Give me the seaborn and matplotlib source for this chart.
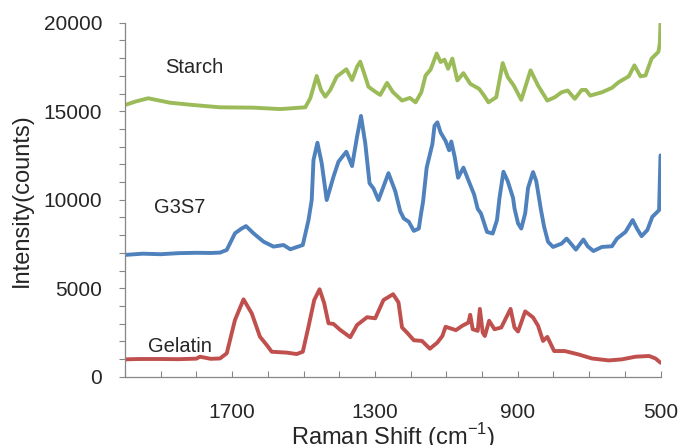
import matplotlib
matplotlib.use("Agg")
import matplotlib.pyplot as plt
from matplotlib.ticker import FixedLocator, MultipleLocator
import seaborn as sns
import pandas as pd

# ---- data (Raman shift in cm-1, intensity in counts) ----
gelatin_shift = [2000, 1960, 1900, 1850, 1800, 1790, 1760, 1734, 1715, 1692, 1668, 1645,
                 1622, 1603, 1589, 1547, 1519, 1502, 1486, 1470, 1455, 1442, 1430, 1416,
                 1397, 1369, 1350, 1322, 1299, 1276, 1249, 1234, 1224, 1210, 1191, 1168,
                 1146, 1125, 1111, 1102, 1073, 1055, 1038, 1033, 1026, 1012, 1006, 998,
                 992, 980, 965, 946, 932, 920, 909, 899, 879, 857, 843, 829, 817, 798,
                 768, 730, 692, 645, 608, 570, 532, 514, 500]
gelatin_int = [980, 1000, 1000, 990, 1020, 1130, 1010, 1030, 1320, 3200, 4370, 3580,
               2260, 1790, 1410, 1360, 1280, 1410, 2830, 4330, 4940, 4150, 3020, 2980,
               2640, 2230, 2920, 3360, 3300, 4330, 4660, 4200, 2780, 2490, 2060, 2020,
               1580, 1930, 2300, 2820, 2630, 2880, 3060, 3500, 2680, 2590, 3830, 2490,
               2300, 3160, 2680, 2780, 3350, 3830, 2780, 2550, 3690, 3350, 2880, 2020, 2250, 1450,
               1450, 1260, 1030, 920, 980, 1130, 1170, 1030, 790]

g3s7_shift = [2000, 1950, 1900, 1850, 1800, 1760, 1734, 1715, 1692, 1675, 1661, 1640,
              1612, 1584, 1556, 1537, 1502, 1486, 1477, 1472, 1461, 1449, 1435, 1416,
              1402, 1380, 1364, 1350, 1339, 1327, 1315, 1304, 1290, 1262, 1243, 1229,
              1219, 1205, 1191, 1177, 1170, 1165, 1155, 1139, 1133, 1125, 1116, 1102,
              1092, 1086, 1076, 1067, 1052, 1039, 1022, 1012, 1003, 986, 970, 958, 951,
              940, 928, 913, 909, 899, 890, 879, 871, 857, 848, 835, 826, 815, 801, 777,
              763, 751, 737, 716, 704, 688, 664, 636, 622, 598, 578, 566, 553, 537, 523,
              504, 500]
g3s7_int = [6880, 6950, 6920, 6980, 7000, 6990, 7010, 7160, 8100, 8350, 8510, 8100,
            7630, 7350, 7440, 7200, 7440, 8850, 9980, 12240, 13220, 12060, 9980, 11300,
            12150, 12710, 11900, 13560, 14730, 13190, 10930, 10640, 9980, 11500, 10480, 9340,
            8940, 8750, 8240, 8370, 9300, 9900, 11810, 13140, 14180, 14370, 13800, 13320,
            12790, 13290, 12370, 11240, 11810, 11140, 10290, 9480, 9230, 8180, 8090, 8850, 10100,
            11580, 11050, 10100, 9510, 8660, 8370, 9230, 10670, 11560, 11050, 9440, 8470, 7620, 7330, 7520,
            7800, 7520, 7180, 7750, 7370, 7100, 7330, 7370, 7800, 8180, 8850, 8370, 7940, 8280, 9030,
            9410, 12500]

starch_shift = [2000, 1970, 1935, 1874, 1809, 1734, 1640, 1565, 1495, 1481, 1463, 1451,
                1439, 1425, 1407, 1380, 1364, 1350, 1341, 1327, 1318, 1299, 1285, 1266,
                1250, 1224, 1202, 1186, 1170, 1158, 1144, 1127, 1116, 1105, 1095, 1083,
                1069, 1052, 1033, 1008, 994, 982, 960, 942, 928, 911, 890, 864, 843, 817,
                796, 777, 760, 740, 721, 709, 697, 664, 636, 617, 589, 573, 556, 542, 525,
                506, 502, 500]
starch_int = [15350, 15550, 15730, 15480, 15350, 15220, 15200, 15120, 15220, 15730, 16990, 16200,
              15820, 16200, 16950, 17370, 16760, 17510, 17800, 16950, 16380, 16100, 15920, 16600,
              16090, 15600, 15750, 15500, 16070, 17020, 17350, 18260, 17780, 17910, 17400, 17970,
              16740, 17150, 16550, 16260, 15880, 15500, 15790, 17720, 16930, 16450, 15640, 17310, 16450, 15600,
              15790, 16070, 16170, 15700, 16200, 16200, 15880, 16070, 16320, 16640, 16970, 17590, 16970, 17020, 17970,
              18350, 18820, 19950]

samples = ["Starch", "G3S7", "Gelatin"]
colors = ["#9BBB59", "#4F81BD", "#C0504D"]
x_major = [1700, 1300, 900, 500]

df = pd.concat([
    pd.DataFrame({"shift": starch_shift, "intensity": starch_int, "sample": "Starch"}),
    pd.DataFrame({"shift": g3s7_shift, "intensity": g3s7_int, "sample": "G3S7"}),
    pd.DataFrame({"shift": gelatin_shift, "intensity": gelatin_int, "sample": "Gelatin"}),
], ignore_index=True)

sns.set_style("white")
plt.rcParams["font.family"] = ["Liberation Sans", "DejaVu Sans"]
plt.rcParams["mathtext.fontset"] = "custom"
plt.rcParams["mathtext.rm"] = "Liberation Sans"

fig = plt.figure(figsize=(6.82, 4.45), dpi=100)
ax = fig.add_axes([125 / 682, 1 - 376.7 / 445, 535.5 / 682, 354 / 445])

sns.lineplot(data=df, x="shift", y="intensity", hue="sample", hue_order=samples,
             palette=colors, linewidth=2.8, legend=False, ax=ax, estimator=None)

ax.set_xlim(2000, 500)
ax.set_ylim(0, 20000)

axis_col = "#868686"
for side in ["top", "right"]:
    ax.spines[side].set_visible(False)
for side in ["left", "bottom"]:
    ax.spines[side].set_color(axis_col)
    ax.spines[side].set_linewidth(0.9)

ax.xaxis.set_major_locator(FixedLocator(x_major))
ax.xaxis.set_minor_locator(MultipleLocator(100))
ax.yaxis.set_major_locator(MultipleLocator(5000))
ax.yaxis.set_minor_locator(MultipleLocator(1000))
ax.tick_params(axis="x", which="both", direction="in", length=4.5, width=0.8,
               color=axis_col, labelsize=15, pad=19, bottom=True)
ax.tick_params(axis="y", which="both", direction="out", length=4.3, width=0.8,
               color=axis_col, labelsize=15, pad=12, left=True)

ax.set_xlabel("Raman Shift (cm$^{-1}$)", fontsize=17, labelpad=-1)
ax.set_ylabel("Intensity(counts)", fontsize=17)
ax.yaxis.set_label_coords(-0.172, 0.5)

txt_kw = dict(fontsize=14.5, ha="left", va="baseline")
ax.text(1888, 17140, "Starch", **txt_kw)
ax.text(1919, 9230, "G3S7", **txt_kw)
ax.text(1935, 1410, "Gelatin", **txt_kw)

fig.savefig("out.png", dpi=100)
